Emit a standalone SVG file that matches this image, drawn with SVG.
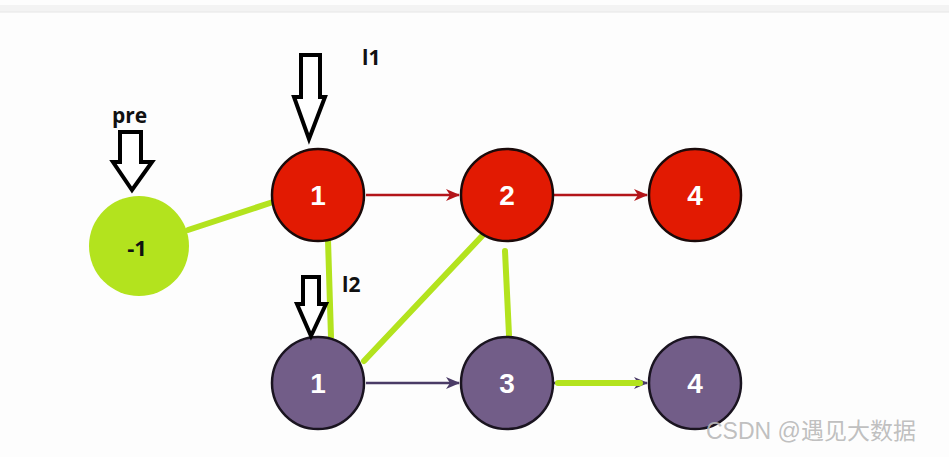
<svg xmlns="http://www.w3.org/2000/svg" width="949" height="457" viewBox="0 0 949 457">
<defs>
<style>
.red{fill:#e21a02;stroke:#1a0a0a;stroke-width:2.5}
.pur{fill:#725d88;stroke:#1a1420;stroke-width:2.5}
.num{font-family:"Liberation Sans",Arial,sans-serif;font-weight:bold;font-size:28px;fill:#ffffff;text-anchor:middle}
.lbl{font-family:"Open Sans","Liberation Sans",sans-serif;font-weight:bold;font-size:21px;fill:#111111}
.gl{stroke:#b3e31e;stroke-width:6;stroke-linecap:round;fill:none}
.hollow{fill:#ffffff;stroke:#000000;stroke-width:4;stroke-linejoin:miter}
</style>
<marker id="ar" viewBox="0 0 14 12" refX="13" refY="6" markerWidth="14" markerHeight="12" markerUnits="userSpaceOnUse" orient="auto"><path d="M0,0 L14,6 L0,12 L4,6 Z" fill="#b3151a"/></marker>
<marker id="ap" viewBox="0 0 14 12" refX="13" refY="6" markerWidth="14" markerHeight="12" markerUnits="userSpaceOnUse" orient="auto"><path d="M0,0 L14,6 L0,12 L4,6 Z" fill="#4a3b66"/></marker>
</defs>
<rect width="949" height="457" fill="#fdfdfd"/>
<rect x="0" y="5" width="949" height="7" fill="#f3f3f3"/>
<line x1="0" y1="12" x2="949" y2="12" stroke="#e6e6e6" stroke-width="1"/>
<g id="connectors">
<line x1="366" y1="195" x2="459" y2="195" stroke="#b3151a" stroke-width="2.5" marker-end="url(#ar)"/>
<line x1="554" y1="195" x2="647" y2="195" stroke="#b3151a" stroke-width="2.5" marker-end="url(#ar)"/>
<line x1="366" y1="383" x2="459" y2="383" stroke="#4a3b66" stroke-width="2.5" marker-end="url(#ap)"/>
<line x1="554" y1="383" x2="647" y2="383" stroke="#4a3b66" stroke-width="2.5" marker-end="url(#ap)"/>
<line class="gl" x1="188" y1="230" x2="273" y2="202"/>
<line class="gl" x1="328" y1="240" x2="331" y2="337"/>
<line class="gl" x1="483" y1="235" x2="364" y2="361"/>
<line class="gl" x1="505" y1="251" x2="509" y2="335"/>
<line class="gl" x1="558" y1="383" x2="640" y2="383"/>
</g>
<g id="node-pre">
<circle cx="139" cy="246" r="50" fill="#b3e31e"/>
<text x="137" y="256" font-family="'Open Sans','Liberation Sans',sans-serif" font-weight="bold" font-size="22" fill="#111" text-anchor="middle">-1</text>
</g>
<g id="node-r1"><circle class="red" cx="318" cy="195" r="46"/><text class="num" x="318" y="205">1</text></g>
<g id="node-r2"><circle class="red" cx="507" cy="195" r="46"/><text class="num" x="507" y="205">2</text></g>
<g id="node-r4"><circle class="red" cx="695" cy="195" r="46"/><text class="num" x="695" y="205">4</text></g>
<g id="node-p1"><circle class="pur" cx="318" cy="383" r="46"/><text class="num" x="318" y="393">1</text></g>
<g id="node-p3"><circle class="pur" cx="507" cy="383" r="46"/><text class="num" x="507" y="393">3</text></g>
<g id="node-p4"><circle class="pur" cx="695" cy="383" r="46"/><text class="num" x="695" y="393">4</text></g>
<g id="pointer-pre">
<path class="hollow" d="M120,132 L141,132 L141,162 L152,162 L132,190 L113,162 L120,162 Z"/>
<text class="lbl" x="112" y="123">pre</text>
</g>
<g id="pointer-l1">
<path class="hollow" d="M301,55 L320,55 L320,97 L325,97 L309,139 L294,97 L301,97 Z"/>
<text class="lbl" x="362" y="65">l1</text>
</g>
<g id="pointer-l2">
<path class="hollow" d="M303,277 L319,277 L319,304 L326,304 L311,336 L297,304 L303,304 Z"/>
<text class="lbl" x="342" y="292">l2</text>
</g>
<text x="706" y="439" font-family="'Liberation Sans','Noto Sans CJK SC',sans-serif" font-size="23" fill="#b8b8b8" fill-opacity="0.9">CSDN @遇见大数据</text>
</svg>
